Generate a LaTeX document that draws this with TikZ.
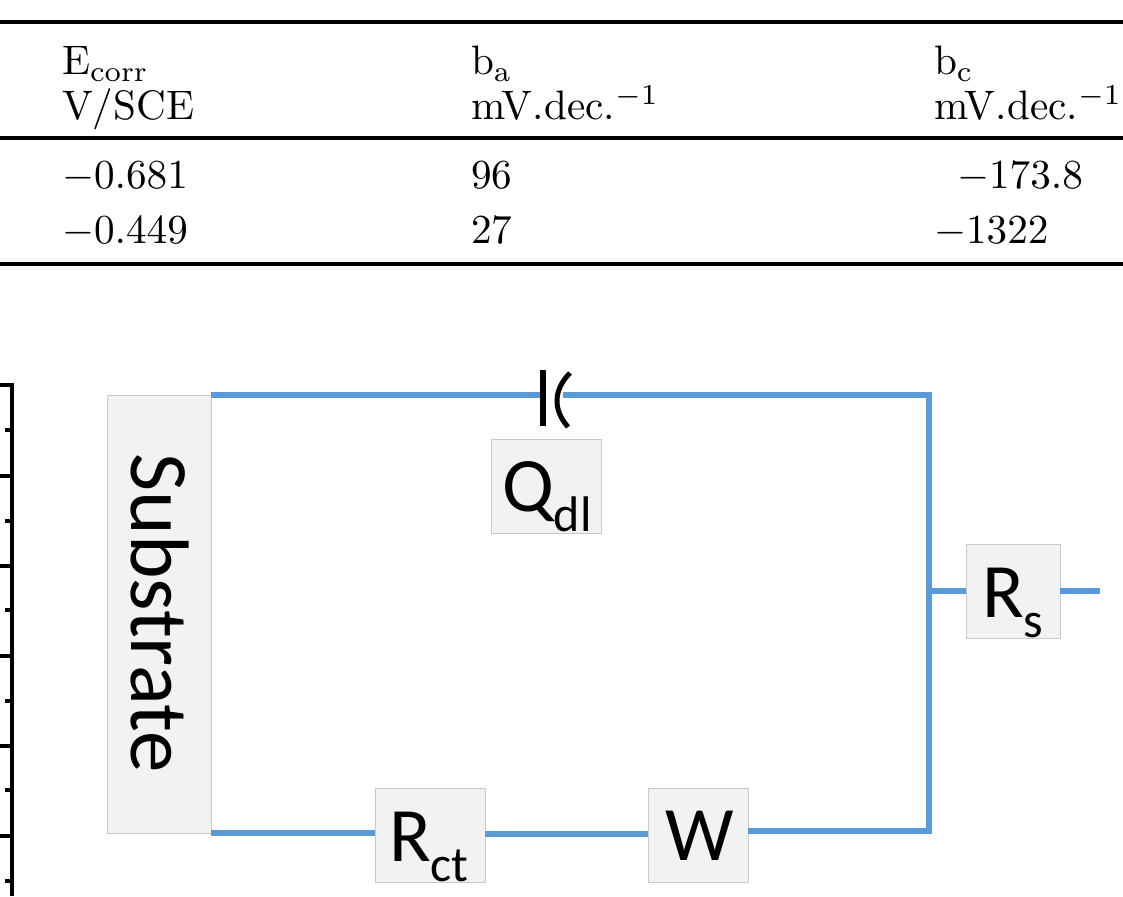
\documentclass[tikz,border=0pt]{standalone}
\usepackage{fontspec}
\newfontfamily\carlitofont{Carlito}
\begin{document}
\begin{tikzpicture}[x=1pt,y=-1pt,
  rule/.style={line width=3.4pt,black},
  cell/.style={scale=4.12,anchor=base west,inner sep=0pt,outer sep=0pt},
  wire/.style={line width=5.5pt,color=wireblue},
  elem/.style={draw=boxedge,fill=boxfill,line width=1pt,inner sep=0pt,outer sep=0pt},
  elemtext/.style={inner sep=0pt,outer sep=0pt,anchor=base west,font=\carlitofont\fontsize{77}{77}\selectfont},
  axisline/.style={line width=3.4pt,black}]
\definecolor{wireblue}{HTML}{5B9BD5}
\definecolor{boxfill}{HTML}{F2F2F2}
\definecolor{boxedge}{HTML}{C9C9C9}
\newcommand{\sbs}[1]{\raisebox{-0.27em}{\fontsize{50}{50}\selectfont #1}}
\useasboundingbox (0,0) rectangle (1123,896);
% table
\draw[rule] (0,22) -- (1123,22);
\draw[rule] (0,138) -- (1123,138);
\draw[rule] (0,264) -- (1123,264);
\node[cell] (h1a) at (62,75) {E$_{\rm corr}$};
\node[cell] (h1b) at (62,119.5) {V/SCE};
\node[cell] (h2a) at (471,75) {b$_{\rm a}$};
\node[cell] (h2b) at (471,119.5) {mV.dec.$^{-1}$};
\node[cell] (h3a) at (934,75) {b$_{\rm c}$};
\node[cell] (h3b) at (934,119.5) {mV.dec.$^{-1}$};
\node[cell] (r1a) at (62,189) {$-0.681$};
\node[cell] (r1b) at (471,189) {96};
\node[cell] (r1c) at (957,189) {$-173.8$};
\node[cell] (r2a) at (62,243) {$-0.449$};
\node[cell] (r2b) at (471,243) {27};
\node[cell] (r2c) at (934,243) {$-1322$};
% axis fragment
\draw[axisline] (0,385) -- (12,385) -- (12,896);
\foreach \yy in {476,566,656,746,836} \draw[axisline] (0,\yy) -- (12,\yy);
\foreach \yy in {430,521,610,701,790,881} \draw[axisline] (5,\yy) -- (12,\yy);
% circuit nodes
\node[elem,minimum width=104pt,minimum height=438pt] (sub) at (159,614) {};
\node[font=\carlitofont\fontsize{83}{83}\selectfont,rotate=-90,inner sep=0pt] (subt) at (160,613) {Substrate};
\node[elem,minimum width=110pt,minimum height=94pt] (q) at (546,486) {};
\node[elem,minimum width=110pt,minimum height=94pt] (rct) at (430,835) {};
\node[elem,minimum width=100pt,minimum height=94pt] (w) at (698,835) {};
\node[elem,minimum width=94pt,minimum height=94pt] (rs) at (1013,591) {};
\node[elemtext] (qt) at (502,511) {Q\sbs{dl}};
\node[elemtext] (rctt) at (389,861) {R\sbs{ct}};
\node[elemtext] (wt) at (665,860) {W};
\node[elemtext] (rst) at (982,617) {R\sbs{s}};
\coordinate (capl) at (543,395);
\coordinate (capr) at (563,395);
\coordinate (tr) at (929,395);
\coordinate (br) at (929,831);
\coordinate (mid) at (929,591);
\coordinate (out) at (1100,591);
% wires
\draw[wire] (sub.north east) -- (capl);
\draw[wire] (capr) -- (tr) -- (br);
\draw[wire] (sub.south east) -- (rct.west |- sub.south east);
\draw[wire] (rct.east |- 0,834) -- (w.west |- 0,834);
\draw[wire] (w.east |- br) -- ([xshift=2.75pt]br);
\draw[wire] (mid) -- (rs.west);
\draw[wire] (rs.east) -- (out);
% capacitor symbol
\draw[line width=6pt,black] (543,370) -- (543,426);
\draw[line width=5pt,black] (570,373) .. controls (553,390) and (553,410) .. (568,427);
\end{tikzpicture}
\end{document}
